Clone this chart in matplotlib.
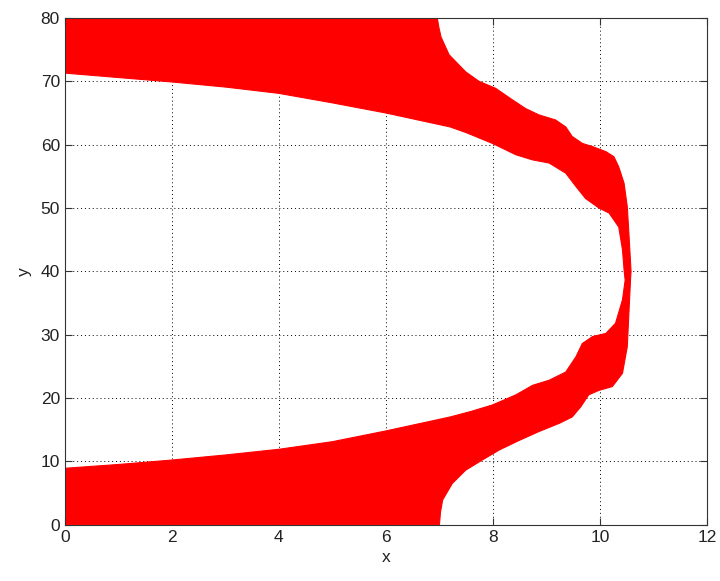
import matplotlib
matplotlib.use('Agg')
from matplotlib import pyplot as plt
import numpy as np

# upper band, right/outer edge (from top down to the middle)
up_out_x = [6.96, 6.99, 7.03, 7.18, 7.49, 7.74, 8.05, 8.36, 8.61, 8.86, 9.17, 9.36, 9.48,
            9.67, 9.86, 10.11, 10.26, 10.35, 10.45, 10.51, 10.54, 10.58]
up_out_y = [80.0, 78.5, 77.0, 74.2, 71.5, 70.0, 68.9, 67.1, 65.7, 64.7, 63.9, 62.8, 61.3,
            60.2, 59.7, 58.9, 58.1, 56.5, 53.9, 50.2, 46.0, 40.0]

# upper band, inner edge (from x=0 to the middle)
up_in_x = [0.0, 1.0, 2.0, 3.0, 4.0, 5.0, 6.0, 6.6, 7.2, 7.5, 7.99, 8.43, 8.74, 9.05,
           9.36, 9.55, 9.73, 9.98, 10.17, 10.35, 10.42, 10.45]
up_in_y = [71.3, 70.6, 69.9, 69.1, 68.1, 66.6, 65.0, 63.9, 62.8, 61.9, 60.2, 58.4, 57.6,
           57.1, 55.5, 53.4, 51.5, 50.0, 49.2, 47.0, 43.4, 40.2]

# lower band, right/outer edge (from middle down to y=0)
lo_out_x = [10.57, 10.54, 10.51, 10.42, 10.23, 9.98, 9.79, 9.64, 9.48, 9.24, 8.86,
            8.49, 8.12, 7.80, 7.49, 7.24, 7.06, 7.02, 7.00]
lo_out_y = [38.6, 33.4, 28.1, 23.9, 21.8, 21.2, 20.5, 18.6, 17.0, 16.0, 14.7,
            13.3, 11.8, 10.2, 8.6, 6.5, 3.9, 2.0, 0.0]

# lower band, inner edge (from x=0 to the middle)
lo_in_x = [0.0, 1.0, 2.0, 3.0, 4.0, 5.0, 6.0, 6.6, 7.2, 7.6, 7.99, 8.43, 8.74, 9.05,
           9.36, 9.55, 9.67, 9.86, 10.11, 10.29, 10.42, 10.47]
lo_in_y = [8.9, 9.5, 10.2, 11.0, 11.9, 13.1, 14.8, 15.9, 17.0, 17.9, 18.9, 20.5, 22.0,
           22.8, 24.1, 26.5, 28.6, 29.7, 30.2, 31.8, 35.5, 38.6]

xticks = [0, 2, 4, 6, 8, 10, 12]
yticks = [0, 10, 20, 30, 40, 50, 60, 70, 80]

plt.rcParams['font.family'] = ['Liberation Sans', 'DejaVu Sans']

fig = plt.figure(figsize=(7.2, 5.81), dpi=100)
ax = fig.add_axes([0.090, 0.097, 0.892, 0.872])

# polygon: top-left corner, outer edges, bottom-left corner, inner edges
px = [0.0] + up_out_x + lo_out_x + [0.0] + lo_in_x + up_in_x[::-1]
py = [80.0] + up_out_y + lo_out_y + [0.0] + lo_in_y + up_in_y[::-1]
ax.fill(px, py, color='#ff0000', lw=0.8, zorder=2)

ax.set_xlim(0, 12)
ax.set_ylim(0, 80)
ax.set_xticks(xticks)
ax.set_yticks(yticks)
ax.grid(True, color='black', linestyle=(0, (1, 3)), linewidth=0.7, zorder=1)
ax.set_axisbelow(True)
ax.tick_params(direction='in', top=True, right=True, length=5,
               labelsize=12.5, labelcolor='#222222', color='#333333')
for s in ax.spines.values():
    s.set_color('#333333')
    s.set_zorder(3)

ax.set_xlabel('x', fontsize=12.5, color='#222222', labelpad=4)
ax.set_ylabel('y', fontsize=12.5, color='#222222', labelpad=6)

fig.savefig('out.png', dpi=100)
